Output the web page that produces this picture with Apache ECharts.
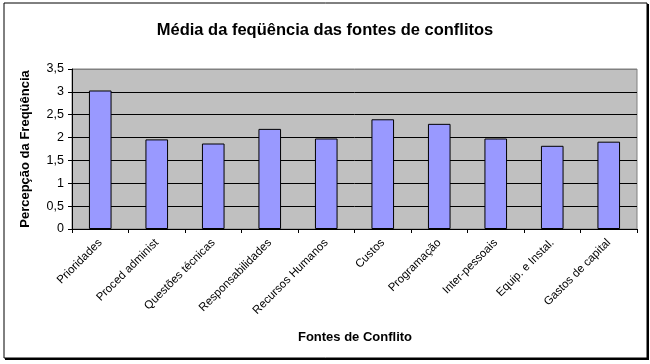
<!DOCTYPE html>
<html><head><meta charset="utf-8">
<script src="https://cdn.jsdelivr.net/npm/echarts@6/dist/echarts.min.js"></script>
<style>html,body{margin:0;padding:0;background:#fff}#c{width:650px;height:364px}</style>
</head><body><div id="c"></div>
<script>
const categories = ["Prioridades","Proced administ","Questões técnicas","Responsabilidades","Recursos Humanos","Custos","Programação","Inter-pessoais","Equip. e Instal.","Gastos de capital"];
const values = [3.03,1.96,1.87,2.19,1.98,2.40,2.30,1.98,1.82,1.91];
const yTicks = [0,0.5,1,1.5,2,2.5,3,3.5];
const titleText = "Média da feqüência das fontes de conflitos";
const yName = "Percepção da Freqüência";
const xName = "Fontes de Conflito";

const chart = echarts.init(document.getElementById('c'), null, {renderer:'canvas'});
const font = 'Liberation Sans, Arial, sans-serif';
chart.setOption({
  animation:false,
  textStyle:{fontFamily:font},
  title:{text:titleText,left:'center',top:17,textStyle:{fontFamily:font,fontSize:16.5,fontWeight:'bold',color:'#000'}},
  grid:{left:72,right:13,top:69,bottom:135,show:true,backgroundColor:'#c0c0c0',borderColor:'#808080',borderWidth:1},
  graphic:[
    {type:'rect',shape:{x:4,y:3,width:643,height:355},style:{fill:'none',stroke:'#000',lineWidth:1},silent:true,z:-1},
    {type:'line',shape:{x1:5,y1:359,x2:648,y2:359},style:{stroke:'#000',lineWidth:2},silent:true},
    {type:'line',shape:{x1:648,y1:4,x2:648,y2:360},style:{stroke:'#000',lineWidth:2},silent:true},
    {type:'text',x:355,y:337,style:{text:xName,align:'center',verticalAlign:'middle',font:'bold 13px '+font,fill:'#000'},silent:true}
  ],
  xAxis:{type:'category',data:categories,boundaryGap:true,
    axisLine:{lineStyle:{color:'#000',width:1}},
    axisTick:{show:true,alignWithLabel:false,length:4,lineStyle:{color:'#000'}},
    axisLabel:{rotate:45,fontSize:11.5,color:'#000',fontFamily:font,margin:12,interval:0},
    splitLine:{show:false}},
  yAxis:{type:'value',min:0,max:3.5,interval:0.5,
    name:yName,nameLocation:'middle',nameGap:40,nameRotate:90,
    nameTextStyle:{fontFamily:font,fontSize:13,fontWeight:'bold',color:'#000'},
    axisLine:{show:true,lineStyle:{color:'#000'}},
    axisTick:{show:true,length:4,lineStyle:{color:'#000'}},
    axisLabel:{fontSize:12.5,color:'#000',fontFamily:font,margin:8,formatter:v=>String(v).replace('.',',')},
    splitLine:{show:true,lineStyle:{color:['#000','#000','#000','#000','#000','#000','#000','#808080'],width:1}}},
  series:[{type:'bar',data:values,barWidth:'40%',itemStyle:{color:'#9999ff',borderColor:'#000',borderWidth:1}}]
});
</script></body></html>
